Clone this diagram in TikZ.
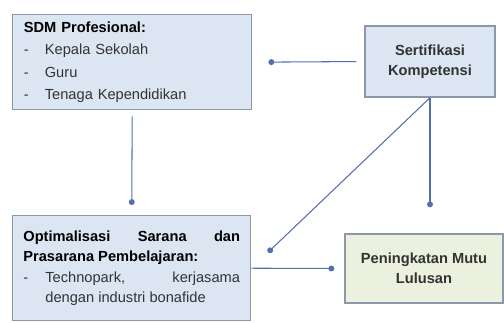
\documentclass[tikz,border=0pt]{standalone}
\usepackage{fontspec}
\setmainfont{Liberation Sans}
\usetikzlibrary{arrows.meta}
\definecolor{boxblue}{RGB}{220,230,242}
\definecolor{boxgreen}{RGB}{235,241,222}
\definecolor{boxline}{RGB}{140,152,168}
\definecolor{linkblue}{RGB}{84,112,172}
\tikzset{
	box/.style={draw=boxline, line width=1.2pt, fill=boxblue, font=\fontsize{12.5}{17.5}\selectfont, text=black!80, inner xsep=0.3cm},
	link/.style={draw=linkblue, line width=0.9pt, -{Circle[length=5pt]}}
}
\begin{document}
\begin{tikzpicture}[x=0.03cm,y=-0.03cm]
				\useasboundingbox (0,0) rectangle (504,322);
				%
				\node[box, anchor=north west, minimum width=7.17cm, minimum height=2.85cm, text width=6.5cm, align=left, font=\fontsize{12.5}{19}\selectfont] (sdm) at (12,14)
					{{\bfseries\color{black} SDM Profesional:}\\
					 -\hspace{1.1em}Kepala Sekolah\\
					 -\hspace{1.1em}Guru\\
					 -\hspace{1.1em}Tenaga Kependidikan};
				\node[box, anchor=north west, minimum width=7.14cm, minimum height=3.15cm, text width=6.5cm, align=justify] (opt) at (12,215)
					{{\bfseries\color{black} Optimalisasi Sarana dan\linebreak Prasarana Pembelajaran:}\par
					 \noindent\makebox[0.66cm][l]{-}\parbox[t]{5.84cm}{Technopark, kerjasama\linebreak dengan industri bonafide}};
				\node[box, minimum width=3.9cm, minimum height=2.13cm, align=center, font=\fontsize{12.5}{17.5}\selectfont\bfseries] (sert) at (430,61.5)
					{Sertifikasi\\Kompetensi};
				\node[box, fill=boxgreen, minimum width=4.74cm, minimum height=2.07cm, align=center, font=\fontsize{12.5}{17.5}\selectfont\bfseries] (mutu) at (424,268.5)
					{Peningkatan Mutu\\Lulusan};
				%
				\draw[link, shorten <=0.24cm, shorten >=0.48cm] (sert.west) -- (sdm.east);
				\draw[link, shorten <=0.18cm, shorten >=0.3cm] (sdm.south) -- (opt.north);
				\draw[link, shorten >=0.78cm] (sert.south) -- (sert.south |- mutu.north);
				\draw[link, shorten >=0.69cm] (sert.south) -- (opt.east);
				\draw[link, shorten >=0.3cm] (opt.east) -- (mutu.west);
			\end{tikzpicture}
\end{document}
